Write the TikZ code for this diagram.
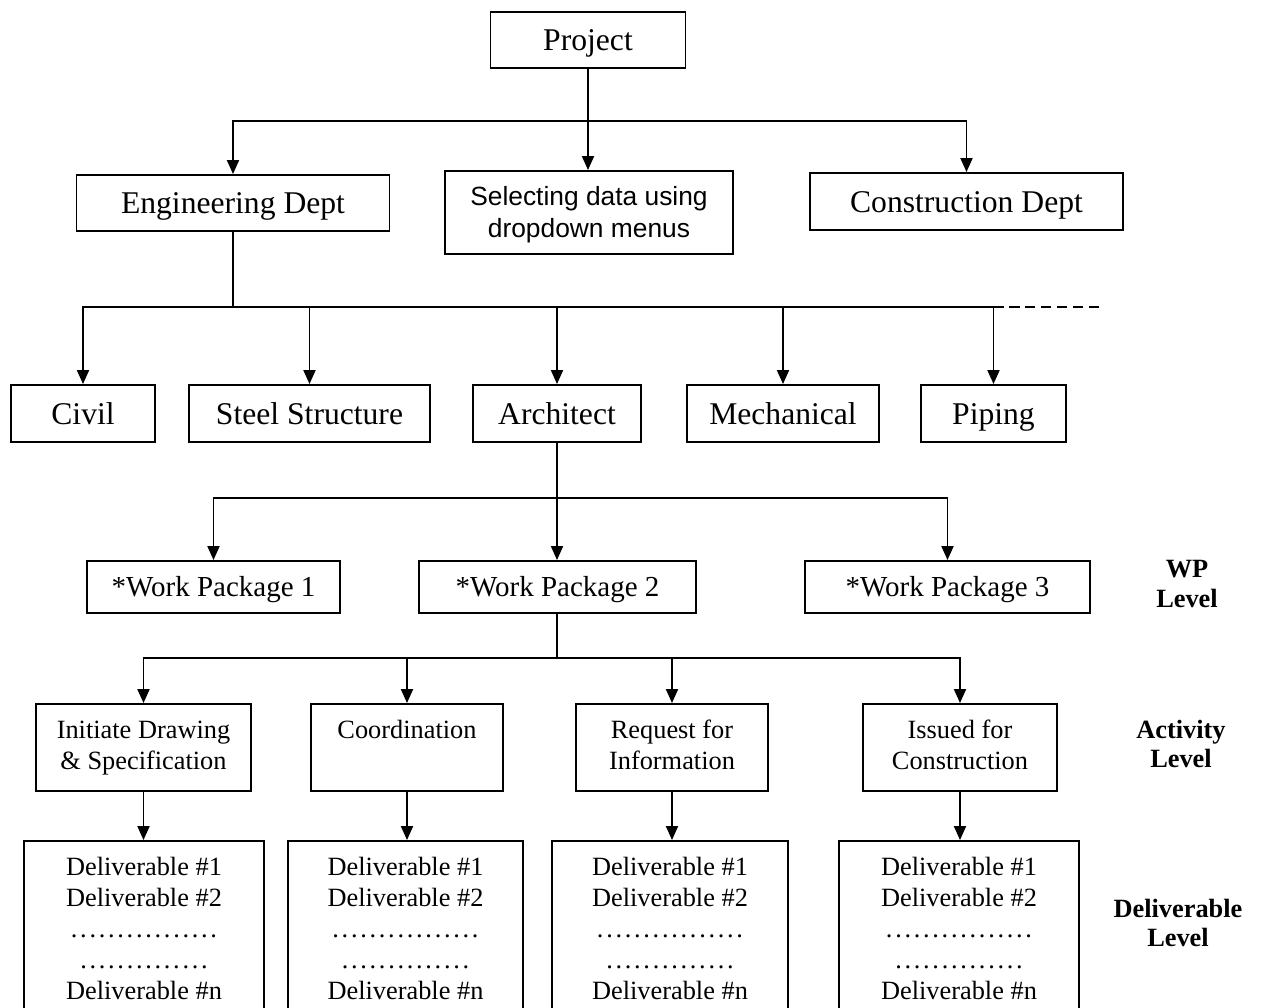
\documentclass[tikz,border=0pt]{standalone}
\usepackage{fontspec}
\setmainfont{Liberation Serif}
\newfontfamily\arialfont{Liberation Sans}
\usetikzlibrary{arrows.meta}

% row of evenly spaced dots of a given width
\newcommand\dotrow[1]{\makebox[#1]{\cleaders\hbox to 0.186cm{\hss.\hss}\hfill}}

\begin{document}
\begin{tikzpicture}[x=0.02cm, y=-0.02cm,
  ln/.style={line width=1.1pt},
  box/.style={draw, line width=1.1pt, inner sep=0pt, align=center},
  big/.style={box, font=\fontsize{18}{21.6}\selectfont, text height=16.2pt, text depth=4pt},
  wp/.style={box, font=\fontsize{16.5}{20}\selectfont, minimum height=1.04cm,
    text height=14.8pt, text depth=3.6pt},
  act/.style={box, font=\fontsize{15}{17.6}\selectfont, minimum height=1.74cm},
  deliv/.style={draw, line width=1.1pt, minimum height=3.78cm},
  delivtext/.style={anchor=north, inner sep=0pt, align=center,
    font=\fontsize{15}{17.6}\selectfont},
  lvl/.style={align=center, font=\fontsize{15}{17}\selectfont\bfseries},
  arr/.style={ln, -{Triangle[length=0.28cm, width=0.24cm]}}]

\useasboundingbox (0,0) rectangle (1262,1008);
\clip (0,0) rectangle (1262,1008);

% top level
\node[big, minimum width=3.9cm, minimum height=1.12cm] (proj) at (588,40) {Project};

% departments
\node[big, minimum width=6.26cm, minimum height=1.12cm] (eng) at (233,203) {Engineering Dept};
\node[box, minimum width=5.76cm, minimum height=1.66cm,
  font=\arialfont\fontsize{15}{18.3}\selectfont] (sel) at (589,212.5) {\rule{0pt}{16pt}Selecting data using\\dropdown menus\strut};
\node[big, minimum width=6.26cm, minimum height=1.14cm] (con) at (966.5,201.5) {Construction Dept};

% disciplines
\node[big, minimum width=2.88cm, minimum height=1.14cm] (civil) at (83,413.5) {Civil};
\node[big, minimum width=4.82cm, minimum height=1.14cm] (steel) at (309.5,413.5) {Steel Structure};
\node[big, minimum width=3.36cm, minimum height=1.14cm] (arch) at (557,413.5) {Architect};
\node[big, minimum width=3.84cm, minimum height=1.14cm] (mech) at (783,413.5) {Mechanical};
\node[big, minimum width=2.9cm, minimum height=1.14cm] (pipe) at (993.5,413.5) {Piping};

% work packages
\node[wp, minimum width=5.06cm] (wp1) at (213.5,587) {*Work Package 1};
\node[wp, minimum width=5.54cm] (wp2) at (557.5,587) {*Work Package 2};
\node[wp, minimum width=5.7cm] (wp3) at (947.5,587) {*Work Package 3};

% activities
\node[act, minimum width=4.3cm] (a1) at (143.5,747.5) {\strut Initiate Drawing\\\& Specification\strut};
\node[act, minimum width=3.84cm] (a2) at (407,747.5) {\strut Coordination\\\strut};
\node[act, minimum width=3.84cm] (a3) at (672,747.5) {\strut Request for\\Information\strut};
\node[act, minimum width=3.88cm] (a4) at (960,747.5) {\strut Issued for\\Construction\strut};

% deliverables
\node[deliv, minimum width=4.8cm] (d1) at (144,935.5) {};
\node[deliv, minimum width=4.7cm] (d2) at (405.5,935.5) {};
\node[deliv, minimum width=4.72cm] (d3) at (670,935.5) {};
\node[deliv, minimum width=4.8cm] (d4) at (959,935.5) {};
\foreach \d in {d1,d2,d3,d4}{
  \node[delivtext] (\d t) at ([yshift=-0.34cm]\d.north)
    {Deliverable \#1\\Deliverable \#2\\\dotrow{2.98cm}\\\dotrow{2.79cm}\\Deliverable \#n};
}

% level labels
\node[lvl] (lwp) at (1187,584) {WP\\Level};
\node[lvl] (lact) at (1181,744) {Activity\\Level};
\node[lvl] (ldel) at (1178,923) {Deliverable\\Level};

% bus junctions
\coordinate (b1) at (588,121);
\coordinate (b2) at (233,307);
\coordinate (b3) at (557,498);
\coordinate (b4) at (557,658);
\coordinate (dashend) at (1105,307);

% project to departments
\draw[ln] (proj.south) -- (b1);
\draw[arr] (b1) -- (b1 |- sel.north);
\draw[arr] (b1) -| (eng.north);
\draw[arr] (b1) -| (con.north);

% engineering to disciplines
\draw[ln] (eng.south) -- (b2);
\draw[arr] (b2) -| (civil.north);
\draw[arr] (b2) -| (steel.north);
\draw[arr] (b2) -| (arch.north);
\draw[arr] (b2) -| (mech.north);
\draw[arr] (b2) -| (pipe.north);
\draw[ln, dash pattern=on 5.7pt off 3.4pt] (pipe.north |- b2) -- (dashend);

% architect to work packages
\draw[arr] (arch.south) -- (arch.south |- wp2.north);
\draw[arr] (b3) -| (wp1.north);
\draw[arr] (b3) -| (wp3.north);

% work package 2 to activities
\draw[ln] (wp2.south -| b4) -- (b4);
\draw[arr] (b4) -| (a1.north);
\draw[arr] (b4) -| (a2.north);
\draw[arr] (b4) -| (a3.north);
\draw[arr] (b4) -| (a4.north);

% activities to deliverables
\draw[arr] (a1.south) -- (a1.south |- d1.north);
\draw[arr] (a2.south) -- (a2.south |- d2.north);
\draw[arr] (a3.south) -- (a3.south |- d3.north);
\draw[arr] (a4.south) -- (a4.south |- d4.north);

\end{tikzpicture}
\end{document}
